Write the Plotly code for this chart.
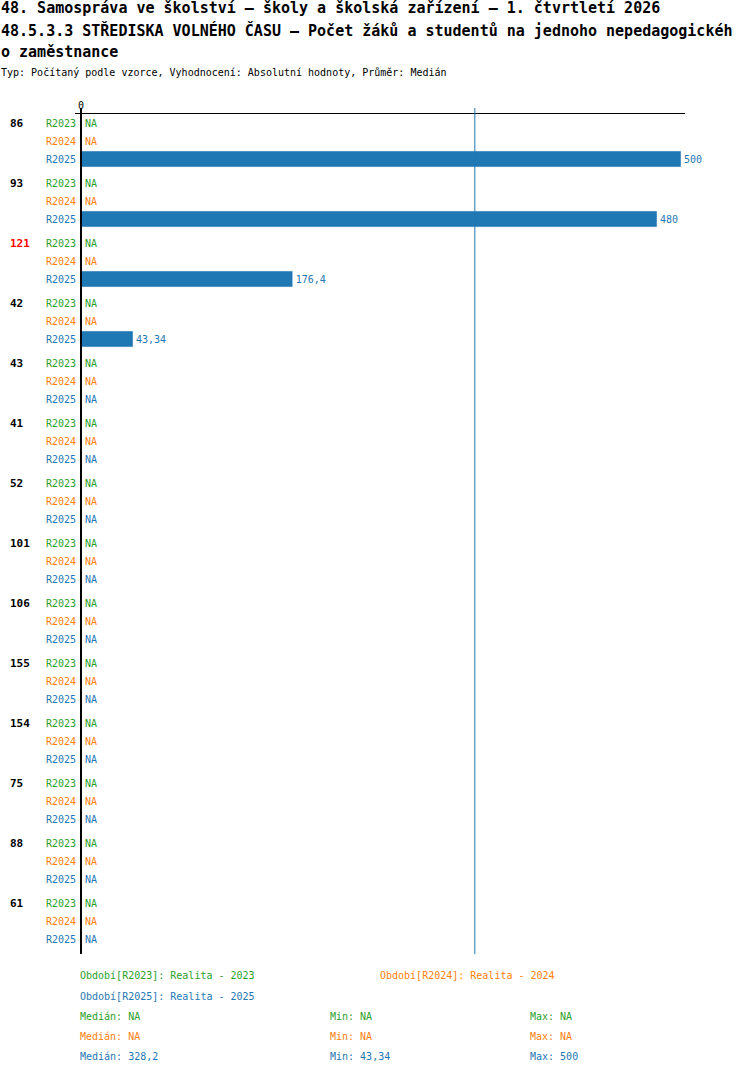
import numpy as np
import plotly.graph_objects as go

# data
groups = ["86", "93", "121", "42", "43", "41", "52", "101", "106", "155", "154", "75", "88", "61"]
highlighted = ["121"]
series = ["R2023", "R2024", "R2025"]
series_names = ["Realita - 2023", "Realita - 2024", "Realita - 2025"]
colors = ["#2ca02c", "#ff7f0e", "#1f77b4"]

r2023 = [np.nan] * 14
r2024 = [np.nan] * 14
r2025 = [500, 480, 176.4, 43.34, np.nan, np.nan, np.nan, np.nan, np.nan, np.nan, np.nan, np.nan, np.nan, np.nan]
values = [r2023, r2024, r2025]

title_lines = [
    "48. Samospráva ve školství – školy a školská zařízení – 1. čtvrtletí 2026",
    "48.5.3.3 STŘEDISKA VOLNÉHO ČASU – Počet žáků a studentů na jednoho nepedagogickéh",
    "o zaměstnance",
]
subtitle = "Typ: Počítaný podle vzorce, Vyhodnocení: Absolutní hodnoty, Průměr: Medián"

FONT = "DejaVu Sans Mono"
W, H = 750, 1074
L, R, T, B = 75, 685, 114, 954   # plot area in pixels
GROUP_STEP, ROW_STEP = 60, 18


def px_x(p):
    return (p - L) / (R - L)


def px_y(p):
    return (B - p) / (B - T)


def fmt(v):
    if v is None or np.isnan(v):
        return "NA"
    return f"{v:g}".replace(".", ",")


fig = go.Figure()
annotations = []

for s, (name, col, vals) in enumerate(zip(series, colors, values)):
    ys = [g * GROUP_STEP + s * ROW_STEP for g in range(len(groups))]
    arr = np.array(vals, dtype=float)
    fig.add_trace(go.Bar(
        x=arr, y=ys, orientation="h", width=16,
        marker_color=col,
        text=[fmt(v) if not np.isnan(v) else "" for v in arr],
        textposition="outside", constraintext="none", cliponaxis=False,
        textfont=dict(family=FONT, size=10, color=col),
        showlegend=False, hoverinfo="skip",
    ))
    for y, v in zip(ys, arr):
        if np.isnan(v):
            annotations.append(dict(
                x=0, xref="x", y=y, yref="y", text="NA", xshift=2,
                xanchor="left", yanchor="middle", showarrow=False,
                font=dict(family=FONT, size=10, color=col),
            ))
        annotations.append(dict(
            x=px_x(78), xref="paper", y=y, yref="y", text=name,
            xanchor="right", yanchor="middle", showarrow=False,
            font=dict(family=FONT, size=10, color=col),
        ))

for g, lab in enumerate(groups):
    annotations.append(dict(
        x=px_x(8), xref="paper", y=g * GROUP_STEP, yref="y", text=f"<b>{lab}</b>",
        xanchor="left", yanchor="middle", showarrow=False,
        font=dict(family=FONT, size=11, color="#ff0000" if lab in highlighted else "black"),
    ))

# title block
for txt, py in zip(title_lines, [8, 31, 52]):
    annotations.append(dict(
        x=px_x(-1), xref="paper", y=px_y(py), yref="paper", text=f"<b>{txt}</b>",
        xanchor="left", yanchor="middle", showarrow=False,
        font=dict(family=FONT, size=15, color="black"),
    ))
annotations.append(dict(
    x=px_x(-1), xref="paper", y=px_y(73), yref="paper", text=subtitle,
    xanchor="left", yanchor="middle", showarrow=False,
    font=dict(family=FONT, size=10, color="black"),
))

# legend of periods
for (name, desc, col), (lx, ly) in zip(zip(series, series_names, colors), [(78, 976), (378, 976), (78, 996)]):
    annotations.append(dict(
        x=px_x(lx), xref="paper", y=px_y(ly), yref="paper", text=f"Období[{name}]: {desc}",
        xanchor="left", yanchor="middle", showarrow=False,
        font=dict(family=FONT, size=10, color=col),
    ))

# statistics
for s, (vals, col) in enumerate(zip(values, colors)):
    arr = np.array(vals, dtype=float)
    if np.all(np.isnan(arr)):
        med = mn = mx = np.nan
    else:
        med, mn, mx = np.nanmedian(arr), np.nanmin(arr), np.nanmax(arr)
    py = 1016 + s * 20
    for lab, v, lx in [("Medián", med, 78), ("Min", mn, 328), ("Max", mx, 528)]:
        annotations.append(dict(
            x=px_x(lx), xref="paper", y=px_y(py), yref="paper", text=f"{lab}: {fmt(v)}",
            xanchor="left", yanchor="middle", showarrow=False,
            font=dict(family=FONT, size=10, color=col),
        ))

median_2025 = np.nanmedian(np.array(r2025, dtype=float))
top_ext = 1 + 6 / (B - T)
shapes = [
    dict(type="line", xref="x", yref="paper", x0=0, x1=0, y0=0, y1=top_ext,
         line=dict(color="black", width=2)),
    dict(type="line", xref="x", yref="paper", x0=median_2025, x1=median_2025, y0=0, y1=top_ext,
         line=dict(color=colors[2], width=1)),
]

x_lo = (L - 81) / 1.2
x_hi = (R - 81) / 1.2
last = (len(groups) - 1) * GROUP_STEP + 2 * ROW_STEP

fig.update_layout(
    width=W, height=H,
    margin=dict(l=L, r=W - R, t=T, b=H - B, pad=0),
    paper_bgcolor="white", plot_bgcolor="white",
    font=dict(family=FONT, size=10, color="black"),
    barmode="overlay",
    xaxis=dict(range=[x_lo, x_hi], side="top", tickvals=[0], ticktext=["0"],
               showgrid=False, zeroline=False, showline=True, linecolor="black", linewidth=1,
               ticks="", tickfont=dict(family=FONT, size=10)),
    yaxis=dict(range=[last + 15, -9], showticklabels=False, showgrid=False,
               zeroline=False, showline=False, ticks=""),
    annotations=annotations,
    shapes=shapes,
)

# page without the default body margin so the chart sits at the window corner
fig.write_html("out.html", config={"displayModeBar": False},
               post_script="document.body.style.margin='0';")
